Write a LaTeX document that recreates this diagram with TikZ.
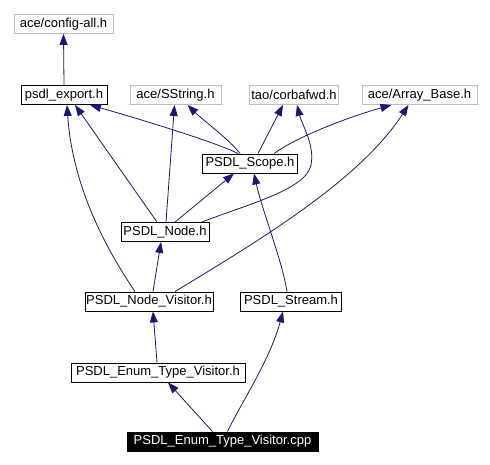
\documentclass[tikz,border=0pt]{standalone}
\usepackage{fontspec}
\setmainfont{Liberation Sans}
\usetikzlibrary{arrows.meta,calc}
\definecolor{edgeblue}{HTML}{191970}
\definecolor{greybox}{HTML}{BFBFBF}
\tikzset{
  box/.style={draw=black, line width=0.9pt, inner sep=0pt, minimum height=19pt,
    font=\fontsize{13}{15}\selectfont, text=black},
  greyn/.style={box, draw=greybox},
  mainn/.style={box, fill=black, text=white},
  dep/.style={draw=edgeblue, line width=0.8pt,
    -{Triangle[length=11pt,width=8pt]}, fill=none},
}
\begin{document}
\begin{tikzpicture}[x=1pt,y=-1pt]
\useasboundingbox (0,0) rectangle (490,465);
\node[greyn, minimum width=99pt] (config) at (63.5,24) {ace/config-all.h};
\node[box, minimum width=86pt] (export) at (64,95) {psdl\_export.h};
\node[greyn, minimum width=91pt] (sstring) at (175.5,95) {ace/SString.h};
\node[greyn, minimum width=89pt] (corba) at (294,95) {tao/corbafwd.h};
\node[greyn, minimum width=115pt] (array) at (419.5,95) {ace/Array\_Base.h};
\node[box, minimum width=95pt] (scope) at (250,163.5) {PSDL\_Scope.h};
\node[box, minimum width=88pt] (node) at (165,232) {PSDL\_Node.h};
\node[box, minimum width=128pt] (visitor) at (149,301.5) {PSDL\_Node\_Visitor.h};
\node[box, minimum width=101pt] (stream) at (291,301.5) {PSDL\_Stream.h};
\node[box, minimum width=174pt] (enum) at (158,372.5) {PSDL\_Enum\_Type\_Visitor.h};
\node[mainn, minimum width=191pt] (cpp) at (222.5,441.5) {PSDL\_Enum\_Type\_Visitor.cpp};

% edges
\draw[dep] (export.north) -- (config.south);
\draw[dep] ([xshift=-12pt]scope.north) .. controls (220,144) and (150,122) .. ([xshift=26pt]export.south);
\draw[dep] ([xshift=-10pt]scope.north) .. controls (230,140) and (205,122) .. ([xshift=12pt]sstring.south);
\draw[dep] ([xshift=8pt]scope.north) -- ([xshift=-11pt]corba.south);
\draw[dep] ([xshift=24pt]scope.north) .. controls (295,138) and (345,118) .. ([xshift=-28pt]array.south);
\draw[dep] ([xshift=-8pt]node.north) -- ([xshift=11pt]export.south);
\draw[dep] ([xshift=1pt]node.north) -- ([xshift=-1pt]sstring.south);
\draw[dep] ([xshift=10pt]node.north) -- ([xshift=-16pt]scope.south);
\draw[dep] ([xshift=37pt]node.north) .. controls (245,205) and (306,190) .. (311,165)
  .. controls (315,145) and (302,125) .. ([xshift=3pt]corba.south);
\draw[dep] ([xshift=-14pt]visitor.north) .. controls (100,240) and (72,180) .. ([xshift=3pt]export.south);
\draw[dep] ([xshift=4pt]visitor.north) -- ([xshift=-4pt]node.south);
\draw[dep] ([xshift=26pt]visitor.north) .. controls (260,240) and (360,180) .. ([xshift=-11pt]array.south);
\draw[dep] ([xshift=-4pt]stream.north) .. controls (282,260) and (262,210) .. ([xshift=4pt]scope.south);
\draw[dep] ([xshift=-1pt]enum.north) -- ([xshift=4pt]visitor.south);
\draw[dep] ([xshift=-10pt]cpp.north) -- ([xshift=10pt]enum.south);
\draw[dep] ([xshift=5pt]cpp.north) .. controls (240,405) and (270,360) .. ([xshift=-8pt]stream.south);
\end{tikzpicture}
\end{document}
